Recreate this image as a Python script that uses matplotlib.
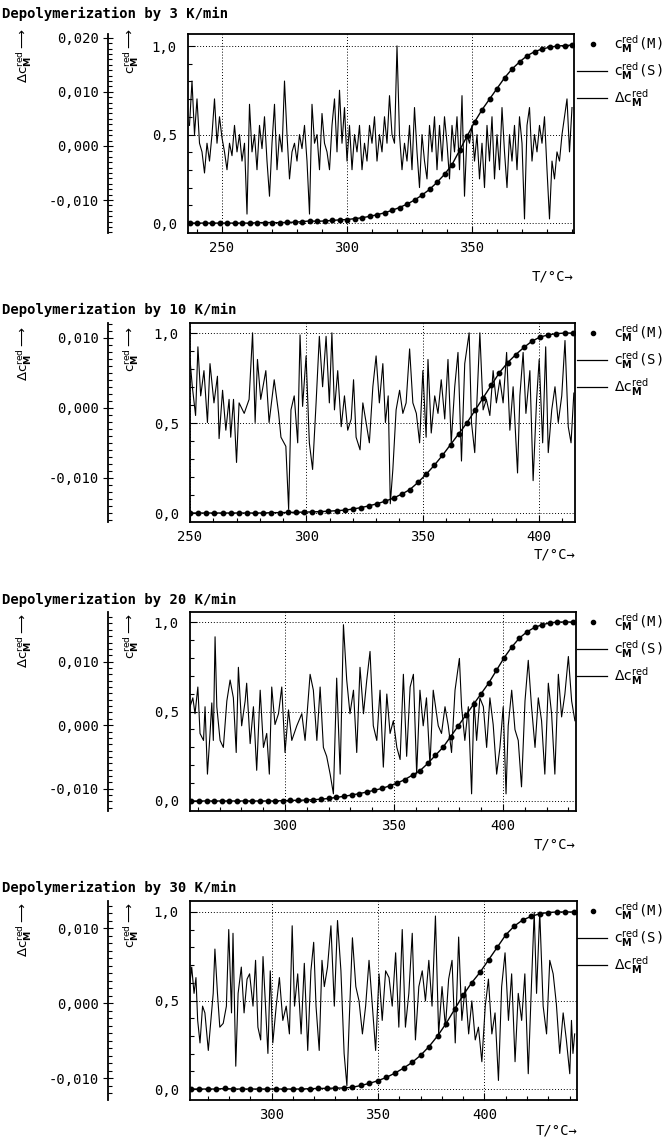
import numpy as np
import matplotlib
matplotlib.use("Agg")
import matplotlib.pyplot as plt
from matplotlib.ticker import MultipleLocator, FuncFormatter
from matplotlib.lines import Line2D

plt.rcParams['font.family'] = ['DejaVu Sans Mono', 'DejaVu Sans']
plt.rcParams['mathtext.fontset'] = 'dejavusans'

# ---- data ----
titles = ["Depolymerization by 3 K/min", "Depolymerization by 10 K/min",
          "Depolymerization by 20 K/min", "Depolymerization by 30 K/min"]

# c_M^red measured points (M) + simulated curve (S)
t3_fit = np.arange(237, 391, 3)
c3_fit = [0, 0, 0, 0, 0, 0, 0, 0, 0, 0.002, 0.003, 0.003, 0.002, 0.004, 0.005, 0.008,
          0.012, 0.01, 0.012, 0.015, 0.018, 0.02, 0.025, 0.03, 0.038, 0.047, 0.058, 0.072,
          0.088, 0.107, 0.13, 0.158, 0.19, 0.23, 0.275, 0.33, 0.41, 0.49, 0.57, 0.64, 0.70,
          0.76, 0.82, 0.87, 0.91, 0.945, 0.968, 0.983, 0.993, 1.0, 1.003, 1.005]
t10_fit = np.arange(250, 415, 3.5)
c10_fit = [0, 0, 0, 0, 0, 0, 0, 0, 0, 0,
           0.002, 0.002, 0.003, 0.004, 0.005, 0.006, 0.008, 0.01, 0.013, 0.016,
           0.022, 0.03, 0.04, 0.052, 0.066, 0.083, 0.105, 0.13, 0.17, 0.215,
           0.265, 0.32, 0.38, 0.44, 0.5, 0.57, 0.64, 0.71, 0.78, 0.835,
           0.88, 0.92, 0.955, 0.978, 0.99, 0.997, 1.0, 1.0]
t20_fit = np.arange(257, 433, 3.5)
c20_fit = [0, 0, 0, 0, 0, 0, 0, 0, 0, 0,
           0, 0, 0.002, 0.003, 0.004, 0.005, 0.007, 0.01, 0.014, 0.02,
           0.026, 0.033, 0.041, 0.05, 0.06, 0.07, 0.085, 0.1, 0.12, 0.145,
           0.17, 0.21, 0.255, 0.3, 0.36, 0.42, 0.48, 0.54, 0.6, 0.66,
           0.73, 0.8, 0.86, 0.91, 0.945, 0.97, 0.985, 0.995, 1.0, 1.0, 1.0]
t30_fit = np.arange(262, 443, 4)
c30_fit = [0, 0, 0, 0, 0.003, 0, 0, 0, 0, 0,
           0, 0, 0, 0, 0.002, 0.003, 0.004, 0.005, 0.006, 0.01,
           0.02, 0.032, 0.047, 0.066, 0.09, 0.118, 0.15, 0.19, 0.24, 0.3,
           0.37, 0.45, 0.53, 0.6, 0.66, 0.73, 0.8, 0.87, 0.92, 0.955,
           0.975, 0.99, 0.997, 1.0, 1.0, 1.0]

# residuals delta c_M^red, in units of 1e-3
t3_res = np.arange(237, 391)
d3_res = [3.8, 12.0, 2.1, 8.7, 0.5, -1.1, -5.0, 0.5, -2.8, 2.1,
          8.7, 0.5, 5.4, 1.5, -1.1, -4.4, 0.5, -1.8, 3.8, -1.1,
          2.1, -2.8, 0.5, -12.6, 7.7, -1.1, 2.1, -4.4, 3.8, -0.5,
          5.4, -2.8, -9.3, 0.5, 7.7, -4.4, 2.1, -1.1, 12.0, 2.1,
          -6.1, -1.1, 0.5, -2.8, 2.1, -0.5, 3.8, -2.8, -12.6, 7.7,
          0.5, 2.1, -4.4, 6.0, 0.5, -1.1, -4.4, 3.8, 8.7, -1.1,
          10.3, 0.5, 7.1, -2.8, 3.8, -4.4, 2.1, -1.1, 3.8, -4.4,
          0.5, -2.8, 3.8, 0.5, 5.4, -2.8, 2.1, -1.1, 5.4, 0.5,
          9.3, 2.1, 0.5, 18.5, 2.1, -4.4, 0.5, -2.8, 3.8, -4.4,
          7.1, -1.1, -7.7, 2.1, -2.8, -6.1, 3.8, -1.1, 5.4, -4.4,
          3.8, -2.8, 5.4, 0.5, -6.1, 3.8, -1.1, 5.4, -4.4, 9.3,
          -9.3, 2.1, 0.5, 3.8, -2.8, 2.1, -6.1, 0.5, -7.7, 3.8,
          -2.8, 5.4, -6.1, 2.1, -4.4, 7.1, -1.1, -7.7, 2.1, -2.8,
          3.8, -4.4, 5.4, 0.5, -13.5, 3.8, 7.1, -2.8, 2.1, -1.1,
          3.8, 0.5, 5.4, -4.4, -13.5, -2.8, -6.1, -1.1, -2.8, 2.1,
          5.4, 8.7, -1.1, 7.1]

t10_res = [250, 251, 252.4, 253.4, 254.6, 256, 257.5, 258.6, 260.3, 261.8,
           262.5, 264, 265.4, 266.8, 267.5, 268.7, 270, 271.1, 273.3, 275.4,
           276.9, 278, 279, 280.4, 282.6, 284, 286.2, 288.1, 289.1, 291.2,
           292.4, 293.4, 294.8, 296.3, 297.3, 298.4, 299.9, 301.3, 302.7, 304.2,
           305.6, 307, 308.5, 309.9, 311, 312.1, 313.5, 315, 316.4, 317.8,
           319.3, 320.3, 321.4, 323.1, 324.3, 325.7, 327.1, 328.6, 330, 331.4,
           332.9, 334, 335.2, 336.1, 337.2, 338.6, 340.1, 341.5, 342.9, 344.4,
           345.8, 347.3, 348.7, 350.1, 351.5, 352.3, 353.7, 355.2, 356.6, 358,
           359.5, 360.9, 362.3, 363.8, 365.2, 366.7, 368.1, 370, 371, 372.4,
           374.6, 376, 377.4, 378.9, 380.3, 381.7, 383.2, 384.6, 386.1, 387.5,
           388.9, 390.8, 391.8, 393.2, 394.4, 396.1, 397.5, 399, 400.1, 401.6,
           402.9, 404, 405.5, 406.9, 408.3, 409.8, 411.2, 412.6, 413.8, 415]
d10_res = [6.9, 3.0, -1.1, 8.7, 1.7, 5.3, -2.1, 6.3, 0.7, 4.5,
           -4.4, 2.5, -3.2, 1.2, -4.2, 1.2, -7.8, 0.7, -0.8, 1.2,
           10.7, -2.1, 6.9, 1.2, 5.3, -2.1, 4.0, -0.8, -4.2, -5.5,
           -14.5, -0.3, 1.7, -5.0, 10.4, 0.2, 7.4, -5.0, -8.8, 0.7,
           10.2, 3.0, 10.2, 0.7, 10.7, -0.3, 5.3, -2.7, 1.7, -3.2,
           -1.6, 4.0, -4.2, -6.0, 0.7, -2.1, -5.0, 3.0, 7.4, 0.7,
           6.3, -2.1, 1.7, -13.7, -8.8, -0.3, 2.5, -0.8, 0.7, 8.4,
           0.7, -0.8, -5.0, 5.3, -4.2, 6.9, -3.6, 1.7, -0.8, 4.0,
           -1.6, 6.9, -5.0, 3.0, 7.9, -7.6, 6.3, 10.7, -2.1, -6.4,
           10.7, -0.3, 1.2, -1.1, 5.3, 0.7, 4.0, 0.7, 7.9, -3.2,
           3.0, -9.3, 1.7, 7.9, -0.8, 5.3, -10.4, 1.2, 6.9, -5.0,
           8.7, -6.4, -0.3, 3.0, -2.1, 1.7, 9.6, -2.7, -5.0, 2.1]

t20_res = [256.4, 257.7, 258.7, 260, 261, 262.6, 263.3, 264.4, 265.6, 266.4,
           267.1, 267.9, 268.7, 270.2, 271.7, 273.3, 274.8, 276.3, 277.6, 278.6,
           280.1, 281.7, 282.4, 284, 285.5, 287, 288.6, 290.1, 291.6, 292.8,
           293.9, 295.4, 297, 298.5, 300, 301.6, 303.1, 305.4, 307.7, 309.2,
           311.5, 313, 314.6, 316.1, 317.6, 319.1, 320.7, 322.2, 323.7, 325.3,
           326.8, 328.3, 329.8, 331.4, 332.9, 334.4, 336, 337.5, 339, 340.5,
           342.1, 343.6, 345.1, 346.7, 348.2, 349.7, 351.3, 352.8, 354.3, 355.8,
           357.4, 358.9, 360.4, 361.9, 363.4, 364.9, 366.5, 368, 370.3, 371.8,
           373.4, 374.9, 376.4, 378, 380, 381, 382.5, 384.1, 385.6, 386.7,
           387.9, 389.4, 391, 392.5, 394, 395.5, 397.1, 398.6, 400.1, 401.4,
           402.4, 404, 405.5, 407, 408.5, 410.1, 411.6, 413.1, 414.7, 416.2,
           417.7, 419.2, 420.8, 422.3, 423.8, 425.4, 426.9, 428.4, 430, 431.5,
           433]
d20_res = [2.9, 4.3, 1.8, 6.0, -1.3, -2.4, 2.9, -7.7, -1.3, 3.5,
           -2.4, 13.9, 2.9, -2.4, -3.5, 3.8, 7.1, 4.3, -4.3, 9.1,
           -0.1, 3.8, 6.6, -2.9, 2.9, -7.1, 5.5, -3.5, -1.3, -7.7,
           6.0, 0.1, 1.8, 6.0, -4.3, 2.4, -2.4, -0.1, 1.8, -2.4,
           8.0, 5.5, -2.4, 6.0, -3.5, -4.9, -7.7, -10.8, 7.4, -7.7,
           15.8, 7.1, 1.8, 5.5, -4.3, 9.1, 1.8, 7.1, 11.6, -0.1,
           -2.4, 5.5, -6.6, 4.9, -1.3, 0.7, -3.5, -5.4, 8.0, -4.9,
           6.0, 8.0, -7.7, 5.5, -0.1, 4.3, -6.3, 5.5, -0.1, -1.3,
           2.9, -0.1, -4.3, 5.5, 10.5, 2.9, -2.4, 2.9, -10.8, 3.8,
           -2.4, 4.3, 2.9, -3.5, 4.3, 0.1, -7.7, -3.5, 2.9, -10.8,
           -0.1, 5.5, -0.7, -2.4, -9.7, 3.8, 10.2, 2.9, -3.5, 4.3,
           0.7, -7.7, 6.6, 1.8, -7.7, 8.0, 1.3, 4.9, 10.8, 3.8,
           0.7]

t30_res = [261.7, 262.5, 263.6, 264.5, 265.3, 266.4, 267.6, 268.7, 270.3, 271.5,
           272.6, 273.4, 274.6, 275.7, 277.3, 278.8, 279.9, 281.2, 281.9, 283.2,
           284.3, 285.8, 287.1, 288.5, 289.7, 291.3, 292.5, 293.6, 294.9, 296,
           297.2, 298.3, 299.4, 300.6, 302.2, 303.7, 305.3, 306.9, 308.4, 309.7,
           310.8, 312.3, 313.9, 315.4, 317, 318.5, 319.8, 320.9, 322.4, 323.7,
           324.8, 326.3, 327.9, 329.5, 331, 332.6, 334.1, 335.4, 336.5, 338,
           339.6, 341.1, 342.7, 344.2, 345.8, 347.4, 348.9, 350.5, 352, 353.6,
           355.2, 356.7, 358.3, 359.8, 361.4, 362.9, 364.5, 366.1, 367.6, 369.2,
           370.8, 372.3, 373.9, 375.4, 377, 378.5, 380.1, 381.7, 383.2, 384.8,
           386.3, 387.9, 389.4, 391, 392.6, 394.1, 395.7, 397.2, 398.8, 400.4,
           401.9, 403.5, 405, 406.6, 408.1, 409.7, 411.3, 412.8, 414.4, 415.9,
           417.5, 419, 420.6, 422.2, 423.4, 424.5, 426, 427.6, 429.2, 430.7,
           432.3, 433.8, 435.4, 437, 438.5, 440.1, 440.9, 441.6, 442.4]
d30_res = [2.7, 4.8, 1.3, 3.4, -2.3, -5.3, -0.4, -1.3, -6.3, -2.3,
           1.3, 7.2, 1.3, -3.2, -2.7, -0.4, 9.8, -1.3, 9.3, -8.4,
           1.3, 4.8, -1.3, 3.2, 3.9, -0.4, 5.7, -3.2, -4.9, 6.2,
           -0.4, -6.7, 4.3, -5.3, -0.4, 3.4, -2.3, -0.4, -4.1, 10.3,
           -0.4, 3.9, -4.1, 5.3, -6.3, 4.3, 8.1, -0.4, -6.3, 5.7,
           2.2, 4.8, 10.3, -0.4, 11.0, 4.3, -6.7, -11.0, -2.3, 8.7,
           2.2, 0.3, -4.1, -0.4, 5.7, -0.4, -6.3, 3.9, -2.3, 4.3,
           3.4, -0.4, 6.7, -3.2, 9.8, -3.2, 1.3, 9.3, -4.9, 2.2,
           4.3, 0.3, 5.7, -0.4, 11.6, -4.1, 2.2, -3.2, 3.2, 5.7,
           -5.3, 8.8, -2.3, 2.2, -4.1, 0.3, -4.9, -3.2, -7.8, -0.4,
           3.2, -4.1, -1.3, -10.3, 2.2, 6.7, -2.3, 3.9, -7.8, 1.3,
           -2.3, 3.9, -9.4, 3.2, 12.1, 1.3, 12.1, -0.4, -4.1, 5.7,
           3.9, -0.1, -6.7, -1.3, -4.9, -9.4, -2.3, -6.7, -4.1]

# ---- layout (pixel positions in the 670x1145 image) ----
W, H = 670, 1145
boxes = [(188, 574, 34, 233), (190, 575, 323, 522), (190, 576, 612, 811), (190, 577, 901, 1100)]
xlims = [(236.4, 390.8), (250, 415.5), (256.4, 433.5), (261.7, 443.5)]
clims = [(-0.056, 1.068), (-0.05, 1.056), (-0.056, 1.056), (-0.062, 1.062)]
dlims = [(-0.0161, 0.0207), (-0.0163, 0.0121), (-0.0135, 0.0178), (-0.0129, 0.0136)]
title_y = [14, 310, 600, 888]
label_top = [28, 326, 613, 902]
xlabel_y = [276, 555, 845, 1131]

fits = [(t3_fit, c3_fit), (t10_fit, c10_fit), (t20_fit, c20_fit), (t30_fit, c30_fit)]
res = [(t3_res, d3_res), (t10_res, d10_res), (t20_res, d20_res), (t30_res, d30_res)]

fig = plt.figure(figsize=(W / 100, H / 100), dpi=100)


def fx(x):
    return x / W


def fy(y):
    return 1 - y / H


def comma(fmt):
    def f(v, pos):
        if abs(v) < 1e-9:
            v = 0.0
        return format(v, fmt).replace('.', ',')
    return FuncFormatter(f)


lab_c = r'$\mathrm{c}_{\mathbf{M}}^{\mathrm{red}}$'
lab_d = r'$\Delta\mathrm{c}_{\mathbf{M}}^{\mathrm{red}}$'

for i in range(4):
    l, r, t, b = boxes[i]
    ax = fig.add_axes([fx(l), fy(b), (r - l) / W, (b - t) / H])
    ax.set_xlim(*xlims[i])
    ax.set_ylim(*clims[i])
    ax.xaxis.set_major_locator(MultipleLocator(50))
    ax.xaxis.set_minor_locator(MultipleLocator(10))
    ax.yaxis.set_major_locator(MultipleLocator(0.5))
    ax.yaxis.set_minor_locator(MultipleLocator(0.1))
    ax.xaxis.set_major_formatter(FuncFormatter(lambda v, p: f'{v:.0f}'))
    ax.yaxis.set_major_formatter(comma('.1f'))
    ax.grid(True, which='major', color='k', ls=(0, (1, 2)), lw=0.7)
    ax.tick_params(which='both', direction='in', top=False, right=False, width=0.8, labelsize=10)
    ax.tick_params(which='major', length=5)
    ax.tick_params(which='minor', length=3)
    ax.tick_params(axis='x', pad=6)
    ax.tick_params(axis='y', pad=8)
    for s in ax.spines.values():
        s.set_linewidth(1.3)

    tf, cf = fits[i]
    ax.plot(tf, cf, color='k', lw=1.0, marker='o', ms=3.2, zorder=4)

    axd = ax.twinx()
    axd.set_ylim(*dlims[i])
    tr, dr = res[i]
    axd.plot(tr, np.array(dr) * 1e-3, color='k', lw=0.8)
    axd.yaxis.tick_left()
    for s in ['right', 'top', 'bottom']:
        axd.spines[s].set_visible(False)
    axd.spines['left'].set_position(('axes', (108 - l) / (r - l)))
    axd.spines['left'].set_linewidth(1.3)
    axd.yaxis.set_major_locator(MultipleLocator(0.01))
    axd.yaxis.set_minor_locator(MultipleLocator(0.001))
    axd.yaxis.set_major_formatter(comma('.3f'))
    axd.tick_params(axis='y', which='major', direction='inout', length=7, width=0.8, labelsize=10, pad=3)
    axd.tick_params(axis='y', which='minor', direction='in', length=3, width=0.8)

    # titles and axis labels
    fig.text(fx(2), fy(title_y[i]), titles[i], fontsize=10, fontweight='bold', ha='left', va='center')
    fig.text(fx(24), fy(label_top[i]), lab_d + r'$\longrightarrow$', rotation=90,
             ha='center', va='top', fontsize=9.5)
    fig.text(fx(131), fy(label_top[i]), lab_c + r'$\longrightarrow$', rotation=90,
             ha='center', va='top', fontsize=9.5)
    fig.text(fx(r), fy(xlabel_y[i]), 'T/°C→', ha='right', va='center', fontsize=10)

    # legend at the right
    rows = [t + 10, t + 37, t + 64]
    fig.add_artist(Line2D([fx(593)], [fy(rows[0])], marker='o', ms=3, color='k', ls='none'))
    for yy in rows[1:]:
        fig.add_artist(Line2D([fx(577), fx(607)], [fy(yy), fy(yy)], color='k', lw=0.9))
    fig.text(fx(614), fy(rows[0]), lab_c + '(M)', fontsize=10, va='center', ha='left')
    fig.text(fx(614), fy(rows[1]), lab_c + '(S)', fontsize=10, va='center', ha='left')
    fig.text(fx(614), fy(rows[2]), lab_d, fontsize=10, va='center', ha='left')

fig.savefig("out.png", dpi=100)
